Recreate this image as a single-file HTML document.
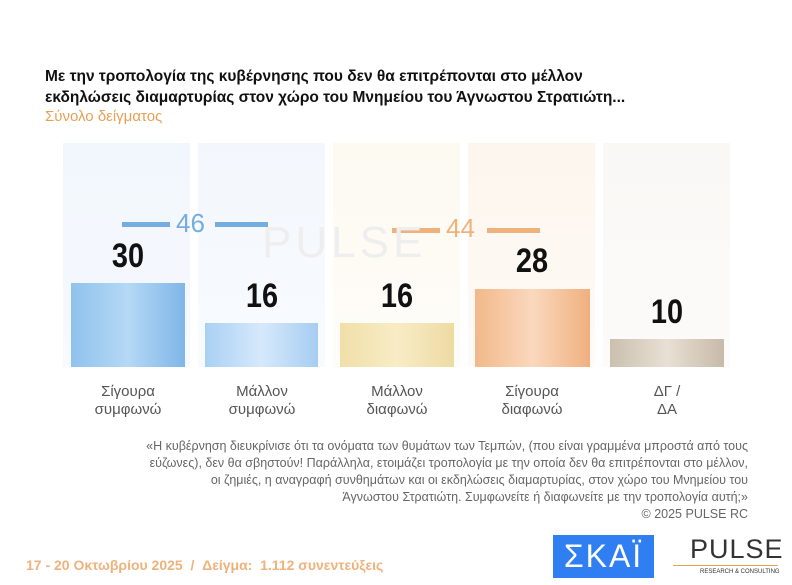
<!DOCTYPE html><html><head><meta charset="utf-8"><style>
body{margin:0;width:792px;height:585px;background:#fff;position:relative;overflow:hidden;font-family:"Liberation Sans","DejaVu Sans",sans-serif}
.a{position:absolute}
.t{left:45px;top:66px;font-weight:bold;font-size:15.5px;line-height:21px;color:#111}
.bg{top:143px;height:224px;width:127px}
.n{font-family:"Liberation Sans Narrow","Liberation Sans",sans-serif;font-weight:bold;font-size:34px;color:#111;width:130px;text-align:center;transform:scaleX(0.85)}
.c{font-family:"Liberation Sans Narrow","Liberation Sans",sans-serif;font-size:15px;color:#555;width:130px;text-align:center;line-height:18px}
.q{right:44px;top:438px;width:700px;text-align:right;font-size:12.5px;line-height:17px;color:#666}
</style></head><body>
<div class="a t">Με την τροπολογία της κυβέρνησης που δεν θα επιτρέπονται στο μέλλον<br>εκδηλώσεις διαμαρτυρίας στον χώρο του Μνημείου του Άγνωστου Στρατιώτη...</div>
<div class="a" style="left:45px;top:108px;font-size:15px;color:#e9a055">Σύνολο δείγματος</div>
<div class="a bg" style="left:63px;background:linear-gradient(#f2f7fd,#f6f9fe)"></div>
<div class="a bg" style="left:198px;background:linear-gradient(#f3f7fd,#f8fbfe)"></div>
<div class="a bg" style="left:333px;background:linear-gradient(#fdfaf2,#fefcf8)"></div>
<div class="a bg" style="left:468px;background:linear-gradient(#fdf6ee,#fefaf6)"></div>
<div class="a bg" style="left:603px;background:linear-gradient(#faf8f5,#fcfbfa)"></div>
<div class="a" style="left:71px;top:283px;width:114px;height:84px;background:linear-gradient(90deg,#8fc2ec,#b5d8f5 50%,#7fb6e8)"></div>
<div class="a" style="left:205px;top:323px;width:113px;height:44px;background:linear-gradient(90deg,#a9d0f3,#d6e9fb 50%,#a5cdf1)"></div>
<div class="a" style="left:340px;top:323px;width:114px;height:44px;background:linear-gradient(90deg,#f0dfa8,#f8ecc6 50%,#eddba3)"></div>
<div class="a" style="left:475px;top:289px;width:115px;height:78px;background:linear-gradient(90deg,#f2b88a,#fad8bd 50%,#efb07f)"></div>
<div class="a" style="left:610px;top:339px;width:114px;height:28px;background:linear-gradient(90deg,#cbbfae,#e8e0d4 50%,#c7baa8)"></div>
<div class="a n" style="left:63px;top:237px">30</div>
<div class="a n" style="left:197px;top:277px">16</div>
<div class="a n" style="left:332px;top:277px">16</div>
<div class="a n" style="left:467px;top:242px">28</div>
<div class="a n" style="left:602px;top:293px">10</div>
<div class="a" style="left:122px;top:222px;width:48px;height:5px;background:#74ade0"></div>
<div class="a" style="left:215px;top:222px;width:53px;height:5px;background:#74ade0"></div>
<div class="a" style="left:176px;top:208px;font-size:26px;color:#74ade0">46</div>
<div class="a" style="left:392px;top:228px;width:48px;height:5px;background:#efb27c"></div>
<div class="a" style="left:487px;top:228px;width:53px;height:5px;background:#efb27c"></div>
<div class="a" style="left:446px;top:213px;font-size:26px;color:#efb27c">44</div>
<div class="a" style="left:262px;top:218px;font-size:44px;color:#eee;letter-spacing:4px">PULSE</div>
<div class="a c" style="left:63px;top:383px">Σίγουρα<br>συμφωνώ</div>
<div class="a c" style="left:197px;top:383px">Μάλλον<br>συμφωνώ</div>
<div class="a c" style="left:332px;top:383px">Μάλλον<br>διαφωνώ</div>
<div class="a c" style="left:467px;top:383px">Σίγουρα<br>διαφωνώ</div>
<div class="a c" style="left:602px;top:383px">ΔΓ /<br>ΔΑ</div>
<div class="a q">«Η κυβέρνηση διευκρίνισε ότι τα ονόματα των θυμάτων των Τεμπών, (που είναι γραμμένα μπροστά από τους<br>εύζωνες), δεν θα σβηστούν! Παράλληλα, ετοιμάζει τροπολογία με την οποία δεν θα επιτρέπονται στο μέλλον,<br>οι ζημιές, η αναγραφή συνθημάτων και οι εκδηλώσεις διαμαρτυρίας, στον χώρο του Μνημείου του<br>Άγνωστου Στρατιώτη. Συμφωνείτε ή διαφωνείτε με την τροπολογία αυτή;»<br>© 2025 PULSE RC</div>
<div class="a" style="left:26px;top:557px;font-size:14px;font-weight:bold;color:#efb27c">17 - 20 Οκτωβρίου 2025 &nbsp;/ &nbsp;Δείγμα: &nbsp;1.112 συνεντεύξεις</div>
<div class="a" style="left:553px;top:535px;width:101px;height:43px;background:#2f7ff2;color:#fff;font-size:32px;text-align:center;line-height:43px;letter-spacing:2px">ΣΚΑΪ</div>
<div class="a" style="left:690px;top:534px;font-size:27px;color:#333;letter-spacing:1px">PULSE</div>
<div class="a" style="left:673px;top:565px;width:105px;height:1px;background:#e9a055"></div>
<div class="a" style="left:700px;top:569px;font-size:6px;color:#333">RESEARCH &amp; CONSULTING</div>
</body></html>
